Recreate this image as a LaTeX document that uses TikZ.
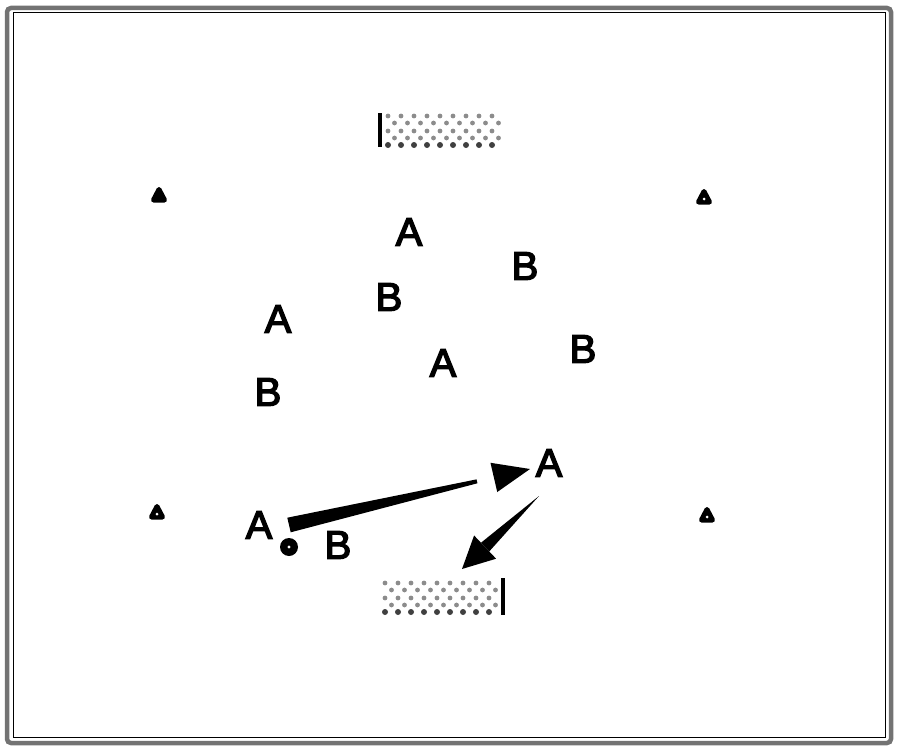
\documentclass[tikz,border=0pt]{standalone}
\usepackage{fontspec}
\setmainfont{Liberation Sans}[FakeBold=3.5]
\usetikzlibrary{calc}
\begin{document}
\begin{tikzpicture}[x=1pt,y=-1pt,
  lab/.style={inner sep=0pt,font=\fontsize{40}{40}\selectfont},
  cone/.style={fill=black,draw=black,line width=5pt,line join=round},
  conedot/.style={fill=white,draw=none},
  lightdot/.style={fill=black!45,draw=none},
  darkdot/.style={fill=black!75,draw=none}]
\useasboundingbox (0,0) rectangle (900,752);
% frame
\draw[black!55,line width=4.5pt,rounded corners=4pt] (7,8) rectangle (891,743);
\draw[black,line width=1pt] (13,13) rectangle (885,737);
% top bench
\foreach \r/\dx in {116/0,123/6.5,131/0,138/6.5}{
  \foreach \i in {0,...,8}{\fill[lightdot] ({388+\dx+13*\i},\r) circle (2.4pt);}}
\foreach \i in {0,...,8}{\fill[darkdot] ({388+13*\i},145) circle (3pt);}
\draw[line width=3.5pt] (380,113) -- (380,147);
% bottom bench
\foreach \r/\dx in {583/0,590/6.5,598/0,605/6.5}{
  \foreach \i in {0,...,8}{\fill[lightdot] ({385+\dx+13*\i},\r) circle (2.4pt);}}
\foreach \i in {0,...,8}{\fill[darkdot] ({385+13*\i},612) circle (3pt);}
\draw[line width=3.5pt] (503,578) -- (503,615);
% cones
\coordinate (c1) at (159,195);
\coordinate (c2) at (704,197);
\coordinate (c3) at (157,512);
\coordinate (c4) at (707,515);
\foreach \c in {c1,c2,c3,c4}{
  \draw[cone] ($(\c)+(0,-5.5)$) -- ($(\c)+(-5.5,5)$) -- ($(\c)+(5.5,5)$) -- cycle;}
\foreach \c in {c2,c3,c4}{\fill[conedot] ($(\c)+(0,2)$) circle (1.5pt);}
% players
\node[lab] (a1) at (409,232) {A};
\node[lab] (a2) at (278,319) {A};
\node[lab] (a3) at (443,363) {A};
\node[lab] (a4) at (549,463) {A};
\node[lab] (a5) at (259,525) {A};
\node[lab] (b1) at (525,266) {B};
\node[lab] (b2) at (389,297) {B};
\node[lab] (b3) at (583,349) {B};
\node[lab] (b4) at (268,392) {B};
\node[lab] (b5) at (338,545) {B};
% ball
\coordinate (ball) at (289,547);
\fill[black] (ball) circle (9pt);
\fill[white] (ball) circle (1.6pt);
% arrow 1: pass from A5 to A4
\coordinate (s1) at (289,525);
\coordinate (t1) at (530,469);
\coordinate (e1) at ($(s1)!0.78!(t1)$);
\coordinate (h1) at ($(s1)!0.85!(t1)$);
\fill[black] ($(s1)!7.5pt!90:(t1)$) -- ($(s1)!7.5pt!-90:(t1)$) -- ($(e1)!2pt!-90:(t1)$) -- ($(e1)!2pt!90:(t1)$) -- cycle;
\fill[black,line join=round] ($(h1)!15pt!90:(t1)$) -- (t1) -- ($(h1)!15pt!-90:(t1)$) -- cycle;
% arrow 2: A4 to bottom bench
\coordinate (s2) at (539,496);
\coordinate (t2) at (462,569);
\coordinate (h2) at ($(s2)!0.70!(t2)$);
\fill[black] (s2) -- ($(h2)!6pt!90:(t2)$) -- ($(h2)!6pt!-90:(t2)$) -- cycle;
\fill[black,line join=round] ($(h2)!16pt!90:(t2)$) -- (t2) -- ($(h2)!16pt!-90:(t2)$) -- cycle;
\end{tikzpicture}
\end{document}
